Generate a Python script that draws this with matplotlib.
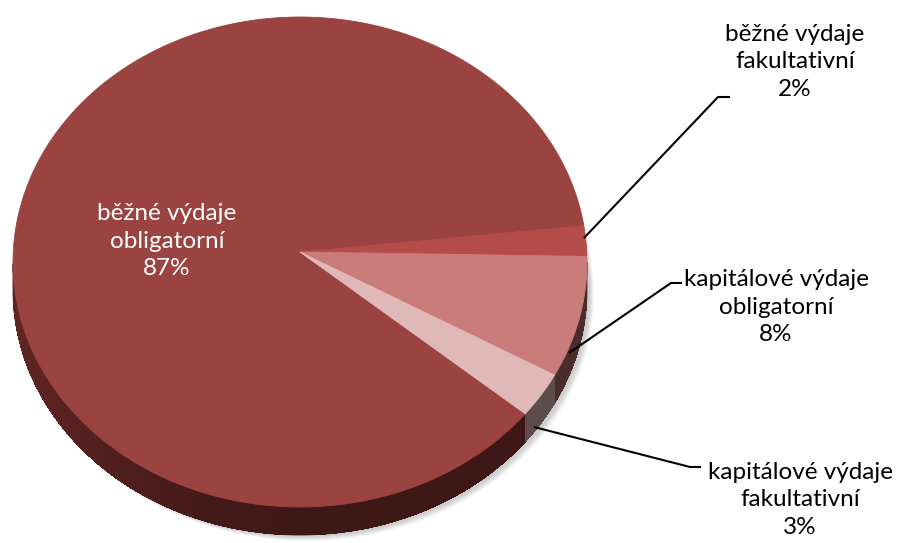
import numpy as np
import matplotlib
matplotlib.use("Agg")
import matplotlib.pyplot as plt
from matplotlib.patches import Polygon

plt.rcParams['font.family'] = ['Lato', 'DejaVu Sans']

labels = ["běžné výdaje\nobligatorní", "běžné výdaje\nfakultativní",
          "kapitálové výdaje\nobligatorní", "kapitálové výdaje\nfakultativní"]
shares = [87, 2, 8, 3]
pct_text = ["87%", "2%", "8%", "3%"]
top_colors = ["#9a4340", "#b44c49", "#ca7c7a", "#e0b8b7"]
side_colors = ["#3e1817", "#6e2a28", "#4c2c2b", "#5c4c4c"]

# pie geometry in pixels (y goes down)
cx, cy = 300, 262
rx, ry = 287, 245
apex = (300, 252)
depth = 28
end_of_first = 8.5  # angle where the big slice ends (clockwise order)


def pt(t, dy=0):
    t = np.radians(t)
    return cx + rx * np.cos(t), cy - ry * np.sin(t) + dy


fig = plt.figure(figsize=(8.98, 5.43), dpi=100)
ax = fig.add_axes([0, 0, 1, 1])
ax.set_xlim(0, 898)
ax.set_ylim(543, 0)
ax.axis('off')

# soft shadow
tt = np.linspace(0, 360, 300)
for k in range(8):
    xs, ys = pt(tt, depth)
    ax.add_patch(Polygon(np.column_stack([xs + 3 + k * 0.6, ys + 2 + k * 0.6]),
                         closed=True, fc='#000000', ec='none', alpha=0.025, zorder=1))

# slice angles, clockwise
fr = np.array(shares) / sum(shares) * 360
starts = []
a = end_of_first + fr[0]
for f in fr:
    starts.append((a, a - f))
    a -= f

# side walls
for (a0, a1), sc in zip(starts, side_colors):
    tt = np.linspace(a1, a0, 400)
    vis = np.mod(tt, 360) >= 180
    if not vis.any():
        continue
    ts = tt[vis]
    top = np.column_stack(pt(ts))
    bot = np.column_stack(pt(ts[::-1], depth))
    ax.add_patch(Polygon(np.vstack([top, bot]), closed=True, fc=sc, ec=sc,
                         lw=0.6, zorder=2))
    base = np.array(matplotlib.colors.to_rgb(sc))
    for i in range(len(ts) - 1):
        t0, t1 = ts[i], ts[i + 1]
        if t1 - t0 > 2:
            continue
        shade = 1 + 0.55 * max(0, -np.cos(np.radians(t0))) ** 1.5
        col = np.clip(base * shade, 0, 1)
        x0, y0 = pt(t0)
        x1, y1 = pt(t1)
        ax.add_patch(Polygon([[x0, y0], [x1, y1], [x1, y1 + depth], [x0, y0 + depth]],
                             closed=True, fc=col, ec='none', antialiased=False,
                             zorder=2.1))

# top faces
for (a0, a1), tc in zip(starts, top_colors):
    tt = np.linspace(a0, a1, 300)
    xs, ys = pt(tt)
    poly = np.vstack([apex, np.column_stack([xs, ys])])
    ax.add_patch(Polygon(poly, closed=True, fc=tc, ec=tc, lw=0.6, zorder=3))

# label text
fs = 17.5
ax.text(167, 241, labels[0] + "\n" + pct_text[0], color='white', fontsize=fs,
        ha='center', va='center', linespacing=1.38, zorder=5)

label_pos = [(795, 62), (776, 307), (800, 500)]
for (x, y), lab, p in zip(label_pos, labels[1:], pct_text[1:]):
    ax.text(x, y, lab + "\n" + p, color='black', fontsize=fs, ha='center',
            va='center', linespacing=1.38, zorder=5)

# leader lines
leaders = [
    [(584, 238), (718, 97), (730, 97)],
    [(569, 353), (671, 283), (682, 283)],
    [(534, 427), (690, 467), (701, 467)],
]
for seg in leaders:
    xs, ys = zip(*seg)
    ax.plot(xs, ys, color='black', lw=1.5, zorder=4, solid_capstyle='butt')

fig.savefig("out.png", dpi=100)
